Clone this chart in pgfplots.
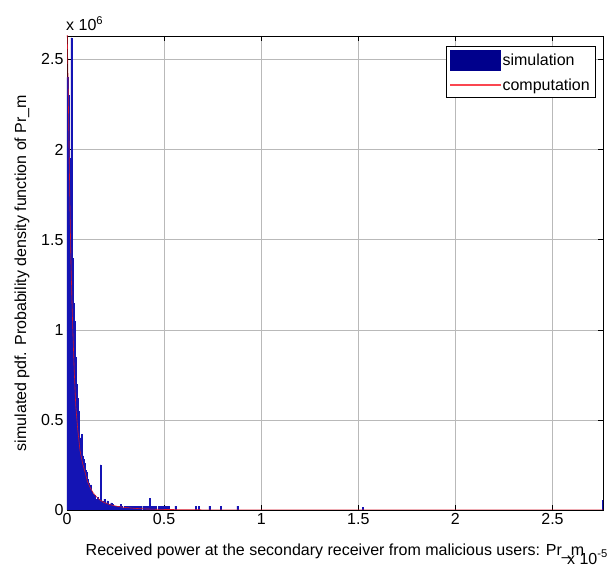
\documentclass[border=0pt]{standalone}
\usepackage{pgfplots}
\pgfplotsset{compat=1.18}
\usepackage{fontspec}
\setmainfont{Liberation Sans}
\definecolor{histblue}{RGB}{0,0,140}
\definecolor{histedge}{RGB}{20,20,180}
\definecolor{curvered}{RGB}{210,20,40}
\definecolor{legred}{RGB}{250,70,80}
\begin{document}
\begin{tikzpicture}
\useasboundingbox (-67pt,-57pt) rectangle (544pt,510pt);
\begin{axis}[
  at={(0,0)}, anchor=south west,
  scale only axis, width=536pt, height=474pt,
  xmin=0, xmax=2.76, ymin=0, ymax=2.63,
  xtick={0,0.5,1,1.5,2,2.5},
  ytick={0,0.5,1,1.5,2,2.5},
  /pgf/number format/assume math mode=true,
  tick label style={font=\fontsize{16}{19}\selectfont},
  label style={font=\fontsize{16}{19}\selectfont},
  grid=major,
  grid style={gray!55, line width=0.5pt},
  tick align=inside,
  major tick length=5pt,
  tick style={black, line width=0.5pt},
  axis line style={black, line width=0.7pt},
  xlabel={Received power at the secondary receiver from malicious users: Pr\_m},
  ylabel={simulated pdf. Probability density function of Pr\_m},
  xlabel style={yshift=-12pt},
  ylabel style={yshift=5pt},
  legend style={at={(rel axis cs:0.987,0.979)}, anchor=north east,
    draw=black, line width=0.6pt, font=\fontsize{16}{19}\selectfont,
    inner xsep=4pt, inner ysep=4pt, row sep=6pt, cells={anchor=west}},
  legend cell align=left,
  clip=true,
]
\addplot[ybar, bar width=0.005, bar shift=0pt, fill=histblue, draw=histedge, line width=0.3pt,
  legend image code/.code={\fill[histblue] (-5pt,-10pt) rectangle (45pt,10pt);}]
coordinates {
(0.0025,2.40) (0.0075,2.30) (0.0125,1.95) (0.0175,1.80) (0.0225,2.62)
(0.0275,1.40) (0.0325,1.15) (0.0375,1.05) (0.0425,0.85) (0.0475,0.70)
(0.0525,0.62) (0.0575,0.55) (0.0625,0.48) (0.0675,0.40) (0.0725,0.36)
(0.0775,0.42) (0.0825,0.30) (0.0875,0.28) (0.0925,0.26) (0.0975,0.22)
(0.1025,0.21) (0.1075,0.17) (0.1125,0.15) (0.1175,0.12) (0.1225,0.14)
(0.1275,0.10) (0.1325,0.09) (0.1375,0.07) (0.1425,0.08) (0.1475,0.06)
(0.1525,0.05) (0.1575,0.07) (0.1625,0.04) (0.1675,0.06) (0.1725,0.25)
(0.1775,0.03) (0.1825,0.05) (0.1875,0.03) (0.1925,0.06) (0.1975,0.02)
(0.2025,0.04) (0.2075,0.05) (0.2125,0.02) (0.2175,0.03) (0.2225,0.012)
(0.2275,0.04) (0.2325,0.02) (0.2375,0.03) (0.2425,0.015) (0.2475,0.02)
(0.2525,0.012) (0.2575,0.022) (0.2675,0.022) (0.2725,0.012) (0.2775,0.03)
(0.2825,0.022) (0.2925,0.012) (0.2975,0.022) (0.3025,0.012) (0.3075,0.022)
(0.3175,0.022) (0.3225,0.012) (0.3275,0.022) (0.3375,0.022) (0.3475,0.022)
(0.3575,0.022) (0.3675,0.022) (0.3775,0.022) (0.3925,0.022) (0.4025,0.022)
(0.4125,0.022) (0.4225,0.022) (0.4275,0.065) (0.4375,0.022) (0.4475,0.022)
(0.4575,0.022) (0.4725,0.022) (0.4825,0.022) (0.4925,0.022) (0.5025,0.022)
(0.5125,0.022) (0.5225,0.022) (0.5575,0.022) (0.6625,0.022) (0.6775,0.022)
(0.7325,0.022) (0.7925,0.022) (0.8775,0.022) (1.5225,0.015) (2.7575,0.055)
};
\addlegendentry{simulation}
\addplot[curvered, line width=0.6pt, mark=none,
  legend image code/.code={\fill[legred] (-5pt,-0.5pt) rectangle (45pt,0.5pt);}]
coordinates {
(0.000,2.70) (0.003,2.55) (0.006,2.35) (0.010,2.05) (0.015,1.70)
(0.020,1.40) (0.025,1.18) (0.030,1.00) (0.037,0.78) (0.045,0.58)
(0.055,0.45) (0.067,0.33) (0.080,0.26) (0.093,0.21) (0.105,0.16)
(0.119,0.125) (0.135,0.095) (0.150,0.075) (0.170,0.055) (0.190,0.042)
(0.220,0.030) (0.260,0.020) (0.300,0.014) (0.350,0.009) (0.400,0.006)
(0.500,0.003) (0.700,0.001) (1.000,0.0002) (2.760,0.0)
};
\addlegendentry{computation}
\end{axis}
\node[anchor=north east, font=\fontsize{16}{19}\selectfont, inner sep=0pt] at (-1pt,479pt) {};
\node[anchor=south west, font=\fontsize{16}{19}\selectfont, inner sep=0pt] at (-1pt,479pt) {x 10\textsuperscript{6}};
\node[anchor=north east, font=\fontsize{16}{19}\selectfont, inner sep=0pt] at (541pt,-40pt) {x 10\textsuperscript{-5}};
\end{tikzpicture}
\end{document}
